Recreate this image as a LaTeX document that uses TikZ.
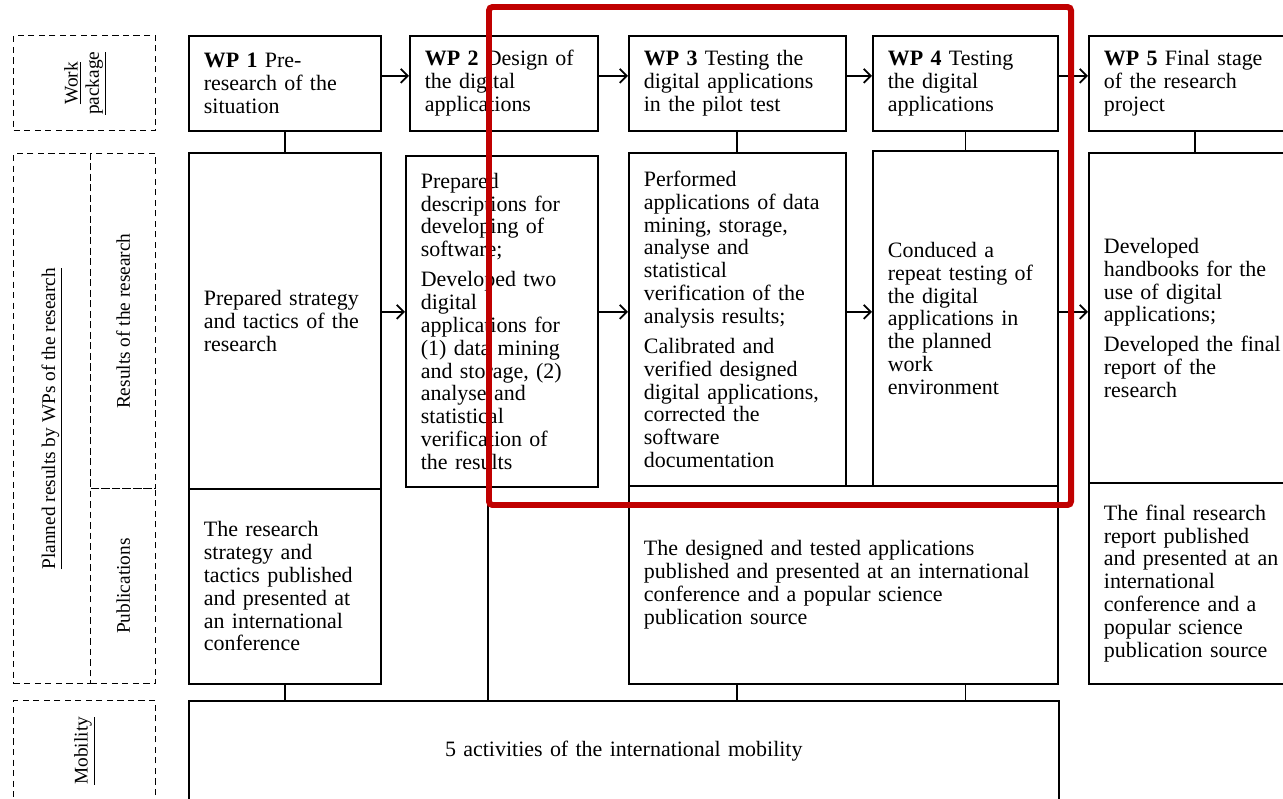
\documentclass[tikz,border=0pt]{standalone}
\usepackage{fontspec}
\setmainfont{Liberation Serif}
\usepackage{graphicx}
\usetikzlibrary{arrows.meta}
\definecolor{framered}{RGB}{192,0,0}
\tikzset{
    wpbox/.style={draw, line width=1pt, anchor=north west, inner xsep=0.3cm, inner ysep=0pt, align=left, font=\fontsize{12.5}{13}\selectfont},
    sidebox/.style={draw, dash pattern=on 3.5pt off 2.5pt, line width=0.8pt, anchor=north west, inner sep=0pt, font=\fontsize{11}{12}\selectfont},
    arr/.style={-{Straight Barb[length=4pt,width=8pt]}, line width=1pt},
    con/.style={line width=1pt},
}
\begin{document}
\begin{tikzpicture}[x=0.02cm, y=-0.02cm]
        \useasboundingbox (0,0) rectangle (1283,798);
        \clip (0,0) rectangle (1283,798);
        \node[sidebox, minimum width=2.84cm, minimum height=1.9cm] (wplab) at (13,35) {\rotatebox{90}{\begin{tabular}{@{}c@{}}\underline{Work}\\\underline{package}\end{tabular}}};
        \node[sidebox, minimum width=1.54cm, minimum height=10.6cm] (planlab) at (13,153) {\rotatebox{90}{\underline{Planned results by WPs of the research}}};
        \node[sidebox, minimum width=1.3cm, minimum height=6.7cm] (reslab) at (90,153) {\rotatebox{90}{Results of the research}};
        \node[sidebox, minimum width=1.3cm, minimum height=3.9cm] (publab) at (90,488) {\rotatebox{90}{Publications}};
        \node[sidebox, minimum width=2.84cm, minimum height=2cm] (moblab) at (13,700) {\rotatebox{90}{\underline{Mobility}}};
        \node[wpbox, text width=3.24cm, minimum height=1.9cm] (wp1) at (188,35) {\textbf{WP 1} Pre-\\research of the\\situation};
        \node[wpbox, text width=3.16cm, minimum height=1.9cm] (wp2) at (409,35) {\textbf{WP 2} Design of\\the digital\\applications};
        \node[wpbox, text width=3.74cm, minimum height=1.9cm] (wp3) at (628,35) {\textbf{WP 3} Testing the\\digital applications\\in the pilot test};
        \node[wpbox, text width=3.10cm, minimum height=1.9cm] (wp4) at (872,35) {\textbf{WP 4} Testing\\the digital\\applications};
        \node[wpbox, text width=3.64cm, minimum height=1.9cm] (wp5) at (1088,35) {\textbf{WP 5} Final stage\\of the research\\project};
        \node[wpbox, text width=3.24cm, minimum height=6.72cm] (wp1res) at (188,152) {Prepared strategy\\and tactics of the\\research};
        \node[wpbox, text width=3.24cm, minimum height=3.9cm] (wp1pub) at (188,488) {The research\\strategy and\\tactics published\\and presented at\\an international\\conference};
        \node[wpbox, text width=3.24cm, minimum height=6.62cm] (wp2res) at (405,155) {Prepared\\descriptions for\\developing of\\software;\\[4pt]Developed two\\digital\\applications for\\(1) data mining\\and storage, (2)\\analyse and\\statistical\\verification of\\the results};
        \node[wpbox, text width=3.74cm, minimum height=6.66cm] (wp3res) at (628,152) {Performed\\applications of data\\mining, storage,\\analyse and\\statistical\\verification of the\\analysis results;\\[4pt]Calibrated and\\verified designed\\digital applications,\\corrected the\\software\\documentation};
        \node[wpbox, text width=3.10cm, minimum height=6.7cm] (wp4res) at (872,150) {Conduced a\\repeat testing of\\the digital\\applications in\\the planned\\work\\environment};
        \node[wpbox, text width=7.98cm, minimum height=3.96cm] (pub34) at (628,485) {The designed and tested applications\\published and presented at an international\\conference and a popular science\\publication source};
        \node[wpbox, text width=3.64cm, minimum height=6.6cm] (wp5res) at (1088,152) {Developed\\handbooks for the\\use of digital\\applications;\\[4pt]Developed the final\\report of the\\research};
        \node[wpbox, text width=3.64cm, minimum height=4.02cm] (wp5pub) at (1088,482) {The final research\\report published\\and presented at an\\international\\conference and a\\popular science\\publication source};
        \node[wpbox, text width=16.8cm, minimum height=2cm, align=center] (mob) at (188,700) {5 activities of the international mobility};
        \draw[arr] ([yshift=0.15cm]wp1.east) -- ([yshift=0.15cm]wp2.west);
        \draw[arr] ([yshift=0.15cm]wp2.east) -- ([yshift=0.15cm]wp3.west);
        \draw[arr] ([yshift=0.15cm]wp3.east) -- ([yshift=0.15cm]wp4.west);
        \draw[arr] ([yshift=0.15cm]wp4.east) -- ([yshift=0.15cm]wp5.west);
        \coordinate (row) at ([yshift=0.18cm]wp1res.east);
        \draw[arr] (row) -- (row -| wp2res.west);
        \draw[arr] (row -| wp2res.east) -- (row -| wp3res.west);
        \draw[arr] (row -| wp3res.east) -- (row -| wp4res.west);
        \draw[arr] (row -| wp4res.east) -- (row -| wp5res.west);
        \draw[con] (wp1.south) -- (wp1res.north);
        \draw[con] (wp3.south) -- (wp3res.north);
        \draw[con] (wp4.south) -- (wp4res.north);
        \draw[con] (wp5.south) -- (wp5res.north);
        \coordinate (drop) at ([xshift=-0.28cm]wp2res.south);
        \draw[con] (drop) -- (drop |- mob.north);
        \draw[con] (wp1pub.south) -- (wp1pub.south |- mob.north);
        \draw[con] (pub34.south -| wp3.south) -- (mob.north -| wp3.south);
        \draw[con] (pub34.south -| wp4.south) -- (mob.north -| wp4.south);
        \draw[framered, line width=3.4pt, rounded corners=2pt] (489,7) rectangle (1071,505);
    \end{tikzpicture}
\end{document}
